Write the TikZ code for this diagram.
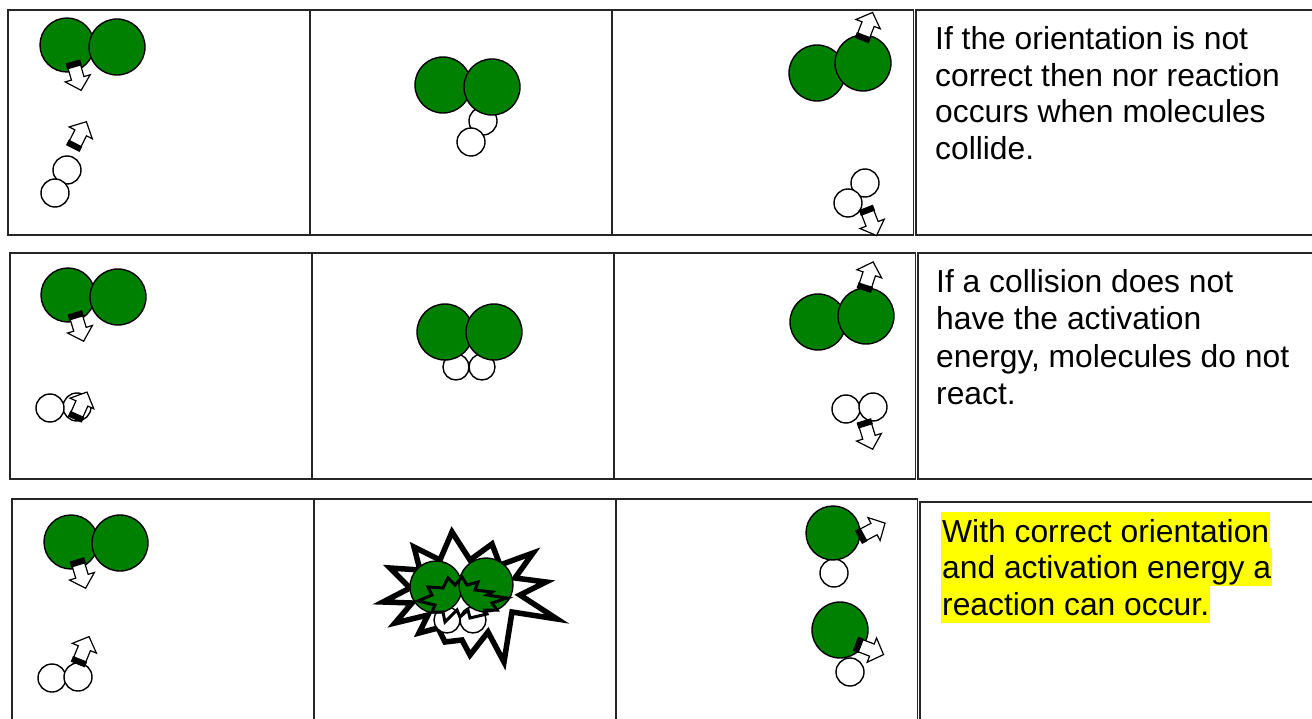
\documentclass[tikz,border=0pt]{standalone}
\usepackage{fontspec}
\setmainfont{Liberation Sans}
\definecolor{leaf}{RGB}{0,128,0}
\definecolor{marker}{RGB}{255,255,0}

% block arrow for the motion of a molecule: base x, base y, angle
\newcommand{\shove}[3]{%
  \begin{scope}[shift={(#1,#2)},rotate=#3]
    \draw[line width=1.2pt, fill=black] (0,-7) rectangle (5,7);
    \draw[line width=1.2pt, fill=white] (5,-6.5) -- (17,-6.5) -- (17,-13) -- (29.5,0)
      -- (17,13) -- (17,6.5) -- (5,6.5) -- cycle;
  \end{scope}}

\begin{document}
\begin{tikzpicture}[x=1pt, y=-1pt,
    frame/.style={line width=1.6pt, black!85},
    big/.style={draw, line width=1.4pt, fill=leaf},
    small/.style={draw, line width=1.4pt, fill=white},
    boom/.style={draw, line width=5.5pt, line join=miter, miter limit=20, fill=white},
    note/.style={anchor=base west, inner sep=0pt, font=\fontsize{31.8}{37}\selectfont},
    glow/.style={note, fill=marker, inner xsep=1pt, text height=30pt, text depth=7.5pt}]
  \useasboundingbox (0,0) rectangle (1312,719);
  \clip (0,0) rectangle (1312,719);

  % row 1: wrong orientation
  \draw[frame] (8,10) rectangle (913.5,235);
  \draw[frame] (310,10) -- (310,235);
  \draw[frame] (612,10) -- (612,235);
  \draw[frame] (916,10) rectangle (1330,235);
  \draw[big] (67,45) circle (27pt);
  \draw[big] (117,47) circle (28pt);
  \draw[small] (67,170) circle (14pt);
  \draw[small] (55,193) circle (14pt);
  \shove{73}{62}{-74}
  \shove{73}{148}{63}
  \draw[small] (483,121) circle (14pt);
  \draw[small] (471,142) circle (14pt);
  \draw[big] (443,85) circle (28pt);
  \draw[big] (492,87) circle (28pt);
  \draw[big] (817,73) circle (28pt);
  \draw[big] (863,63) circle (28pt);
  \draw[small] (865,183) circle (14pt);
  \draw[small] (848,203) circle (14pt);
  \shove{862}{40}{69}
  \shove{866}{208}{-69}
  \node[note] (txt11) at (935,50) {If the orientation is not};
  \node[note] (txt12) at (935,87) {correct then nor reaction};
  \node[note] (txt13) at (935,123) {occurs when molecules};
  \node[note] (txt14) at (935,160) {collide.};

  % row 2: too little energy
  \draw[frame] (10,253) rectangle (915.5,479);
  \draw[frame] (312,253) -- (312,479);
  \draw[frame] (614,253) -- (614,479);
  \draw[frame] (918,253) rectangle (1330,479);
  \draw[big] (68,295) circle (27pt);
  \draw[big] (118,297) circle (28pt);
  \draw[small] (77,407) circle (14pt);
  \draw[small] (50,408) circle (14pt);
  \shove{75}{313}{-73}
  \shove{75}{419}{66}
  \draw[small] (456,367) circle (13pt);
  \draw[small] (482,367) circle (13pt);
  \draw[big] (445,332) circle (28pt);
  \draw[big] (494,332) circle (28pt);
  \draw[big] (818,322) circle (28pt);
  \draw[big] (866,316) circle (28pt);
  \draw[small] (846,409) circle (14pt);
  \draw[small] (873,407) circle (14pt);
  \shove{864}{290}{72}
  \shove{864}{421}{-73}
  \node[note] (txt21) at (936,293) {If a collision does not};
  \node[note] (txt22) at (936,330) {have the activation};
  \node[note] (txt23) at (936,367) {energy, molecules do not};
  \node[note] (txt24) at (936,404) {react.};

  % row 3: reaction
  \draw[frame] (12,499) rectangle (917.5,730);
  \draw[frame] (314,499) -- (314,730);
  \draw[frame] (616,499) -- (616,730);
  \draw[frame] (920,502) rectangle (1330,730);
  \draw[big] (71,542) circle (27pt);
  \draw[big] (120,543) circle (28pt);
  \draw[small] (52,678) circle (14pt);
  \draw[small] (78,677) circle (14pt);
  \shove{77}{560}{-73}
  \shove{78}{664}{68}
  \draw[boom] (452,532) -- (470,560) -- (492,544) -- (500,565) -- (533,553)
    -- (515,578) -- (546,582) -- (520,595) -- (557,619) -- (512,612)
    -- (504,662) -- (488,632) -- (470,655) -- (462,640) -- (445,642)
    -- (438,628) -- (419,633) -- (428,615) -- (395,623) -- (412,603)
    -- (383,602) -- (410,588) -- (390,568) -- (420,570) -- (414,547)
    -- (440,560) -- cycle;
  \draw[small] (447,620) circle (13pt);
  \draw[small] (473,620) circle (13pt);
  \draw[big] (436,587) circle (26pt);
  \draw[big] (486,585) circle (27pt);
  \draw[line width=3pt, line join=miter] (418,601) -- (432,595) -- (428,587)
    -- (443,588) -- (448,578) -- (455,585) -- (462,577) -- (467,585)
    -- (478,582) -- (475,590) -- (492,592) -- (487,595) -- (507,598)
    -- (492,603) -- (497,610) -- (485,610) -- (487,614) -- (470,618)
    -- (468,610) -- (460,617) -- (457,610) -- (445,622) -- (443,612)
    -- (432,612) -- (435,605) -- cycle;
  \draw[small] (834,573) circle (14pt);
  \draw[big] (833,533) circle (27pt);
  \shove{859}{537}{28}
  \draw[small] (850,672) circle (14pt);
  \draw[big] (840,630) circle (28pt);
  \shove{856}{644}{-21}
  \node[glow] (txt31) at (941,542) {With correct orientation};
  \node[glow] (txt32) at (941,578) {and activation energy a};
  \node[glow] (txt33) at (941,615) {reaction can occur.};
\end{tikzpicture}
\end{document}
